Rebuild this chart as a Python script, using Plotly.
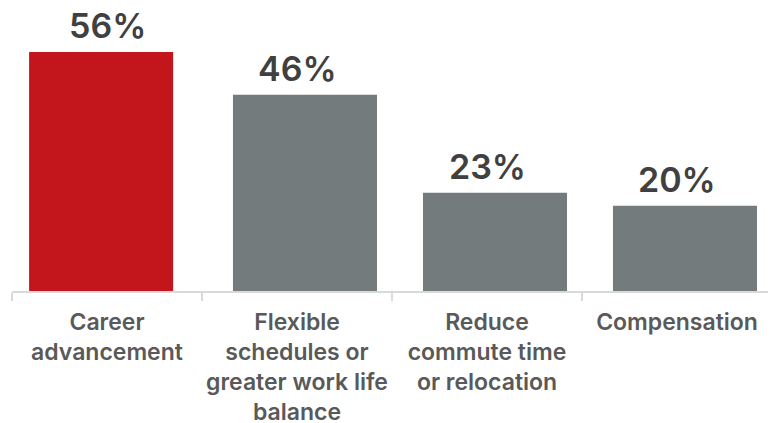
import plotly.graph_objects as go

categories = ["Career<br>advancement",
              "Flexible<br>schedules or<br>greater work life<br>balance",
              "Reduce<br>commute time<br>or relocation",
              "Compensation"]
values = [56, 46, 23, 20]
value_labels = ["56%", "46%", "23%", "20%"]
colors = ["#C3161C", "#737B7C", "#737B7C", "#737B7C"]

fig = go.Figure(go.Bar(
    x=categories, y=values,
    marker=dict(color=colors, line=dict(width=0)),
    width=0.758, offset=[-0.41, -0.337, -0.337, -0.337],
    cliponaxis=False, hoverinfo="skip",
))
for c, v, t in zip(categories, values, value_labels):
    fig.add_annotation(x=c, y=v, text=t, showarrow=False, yanchor="bottom",
                       yshift=5, borderpad=0,
                       font=dict(family="Inter", size=34, color="#404040", weight=600))

# the page body has an 8px margin, so the figure is sized to fit inside the window
fig.update_layout(
    width=768, height=415,
    margin=dict(l=4, r=4, t=0, b=132, autoexpand=False),
    plot_bgcolor="white", paper_bgcolor="white",
    showlegend=False,
    font=dict(family="Inter"),
)
fig.update_xaxes(
    showline=True, linecolor="#D9D9D9", linewidth=1.5,
    ticks="outside", tickson="boundaries", ticklen=8, tickcolor="#D9D9D9", tickwidth=1.5,
    tickfont=dict(family="Inter", size=23, color="#595959", weight=600),
    tickangle=0, automargin=False, ticklabelstandoff=10,
    showgrid=False,
)
fig.update_yaxes(range=[0, 66.3], visible=False, showgrid=False)
fig.write_html("out.html")
